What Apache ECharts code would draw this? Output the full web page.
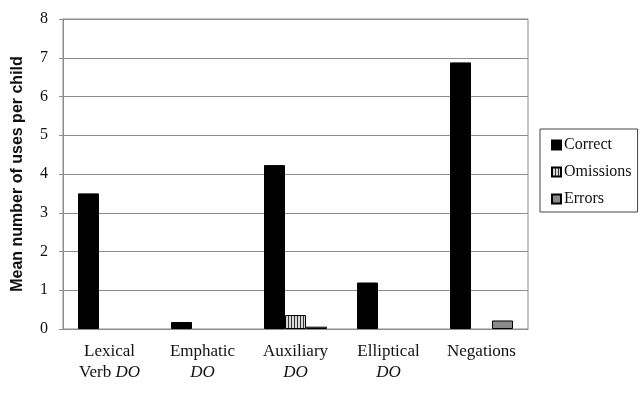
<!DOCTYPE html>
<html>
<head>
<meta charset="utf-8">
<script src="https://cdn.jsdelivr.net/npm/echarts@6/dist/echarts.min.js"></script>
<style>html,body{margin:0;padding:0;background:#fff}#c{width:643px;height:402px}</style>
</head>
<body>
<div id="c"></div>
<script>
var categories = ['Lexical\nVerb DO', 'Emphatic\nDO', 'Auxiliary\nDO', 'Elliptical\nDO', 'Negations'];
var seriesNames = ['Correct', 'Omissions', 'Errors'];
var correct = [3.5, 0.18, 4.23, 1.2, 6.88];
var omissions = [0, 0, 0.36, 0, 0];
var errors = [0, 0, 0.06, 0, 0.22];
var yTicks = [0, 1, 2, 3, 4, 5, 6, 7, 8];

var pc = document.createElement('canvas');
pc.width = 3; pc.height = 4;
var g = pc.getContext('2d');
g.fillStyle = '#d8d8d8'; g.fillRect(0, 0, 3, 4);
g.fillStyle = '#333'; g.fillRect(0, 0, 1, 4);

var serif = '"Liberation Serif", "Times New Roman", serif';
function nz(arr){ return arr.map(function(v){ return v === 0 ? '-' : v; }); }

var chart = echarts.init(document.getElementById('c'));
chart.setOption({
  animation: false,
  grid: { left: 63, right: 115, top: 19, bottom: 73, show: true, borderColor: '#8c8c8c', borderWidth: 1 },
  legend: {
    orient: 'vertical', left: 540, top: 129,
    data: seriesNames, icon: 'rect',
    borderColor: '#444', borderWidth: 1,
    padding: [8, 6, 5, 11],
    itemWidth: 9, itemHeight: 9, itemGap: 11,
    textStyle: { fontFamily: serif, fontSize: 16, color: '#111', padding: [0, 0, 0, -2] }
  },
  xAxis: {
    type: 'category', data: categories,
    axisLine: { lineStyle: { color: '#8c8c8c', width: 1 } },
    axisTick: { length: 4, lineStyle: { color: '#8c8c8c' } },
    axisLabel: {
      margin: 12, interval: 0, color: '#111', fontFamily: serif, fontSize: 17, lineHeight: 21,
      formatter: function (v) { return v.replace(/DO/g, '{i|DO}'); },
      rich: { i: { fontStyle: 'italic', fontFamily: serif, fontSize: 17, color: '#111', lineHeight: 21 } }
    }
  },
  yAxis: {
    type: 'value', min: 0, max: 8, interval: 1,
    name: 'Mean number of uses per child', nameLocation: 'middle', nameGap: 37,
    nameTextStyle: { fontFamily: '"Liberation Sans", Arial, sans-serif', fontWeight: 'bold', fontSize: 16, color: '#111' },
    axisLine: { show: true, lineStyle: { color: '#8c8c8c', width: 1 } },
    axisTick: { show: true, length: 4, lineStyle: { color: '#8c8c8c' } },
    axisLabel: { margin: 15, color: '#111', fontFamily: serif, fontSize: 16,
      formatter: function (v) { return yTicks.indexOf(v) >= 0 ? String(v) : ''; } },
    splitLine: { lineStyle: { color: '#8c8c8c', width: 1 } }
  },
  series: [
    { name: seriesNames[0], type: 'bar', data: nz(correct), barWidth: 21, barGap: '0%',
      itemStyle: { color: '#000', borderColor: '#000', borderWidth: 1 } },
    { name: seriesNames[1], type: 'bar', data: nz(omissions), barWidth: 21, barGap: '0%',
      itemStyle: { color: { image: pc, repeat: 'repeat' }, borderColor: '#000', borderWidth: 1 } },
    { name: seriesNames[2], type: 'bar', data: nz(errors), barWidth: 21, barGap: '0%',
      itemStyle: { color: '#8a8a8a', borderColor: '#000', borderWidth: 1 } }
  ]
});
</script>
</body>
</html>
